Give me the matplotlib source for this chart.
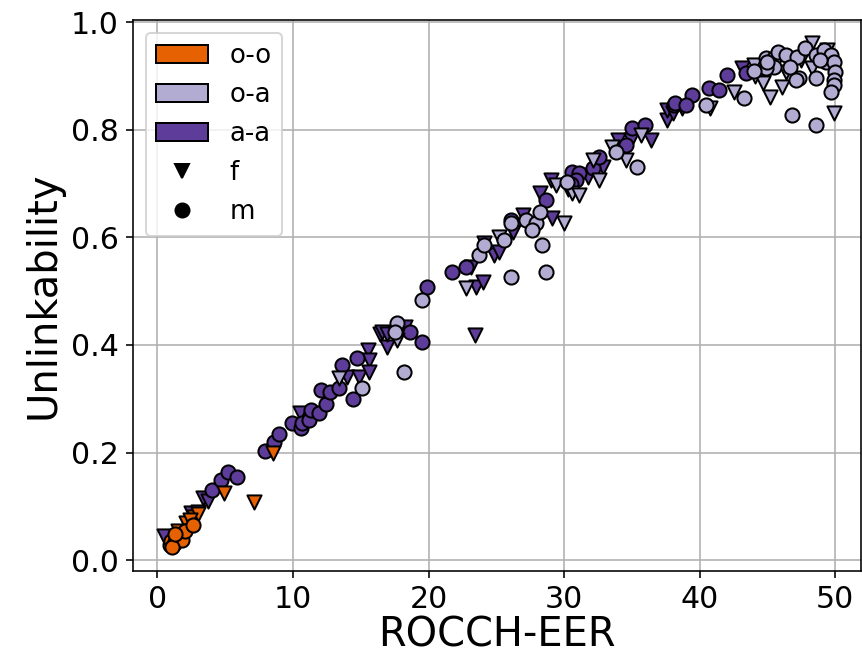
import matplotlib
matplotlib.use("Agg")
import matplotlib.pyplot as plt
from matplotlib.patches import Patch
from matplotlib.lines import Line2D

# ---- data ----
oo_f_x = [2.1, 2.7, 3.0, 4.9, 7.1, 8.5, 1.5, 2.4]
oo_f_y = [0.070, 0.080, 0.085, 0.125, 0.108, 0.200, 0.055, 0.075]
oo_m_x = [0.9, 1.0, 1.2, 1.4, 1.6, 1.8, 2.0, 1.1, 1.3, 2.6]
oo_m_y = [0.028, 0.035, 0.030, 0.040, 0.045, 0.038, 0.055, 0.025, 0.048, 0.065]

aa_f_x = [0.5, 2.5, 3.0, 3.4, 3.7, 10.5, 14.0, 14.9, 15.5, 15.6, 15.6, 16.4, 16.6, 16.9, 16.9, 18.3,
          23.4, 23.5, 24.0, 23.1, 24.1, 24.8, 25.2, 26.2, 27.0, 28.2, 29.1, 29.0, 31.0, 31.8, 32.9,
          34.0, 34.9, 36.4, 37.6, 37.6, 38.0, 38.7, 43.1, 30.3]
aa_f_y = [0.045, 0.087, 0.090, 0.115, 0.110, 0.273, 0.340, 0.340, 0.390, 0.372, 0.350, 0.420, 0.424,
          0.396, 0.420, 0.433, 0.418, 0.508, 0.517, 0.545, 0.590, 0.567, 0.572, 0.610, 0.641, 0.682,
          0.636, 0.706, 0.716, 0.712, 0.731, 0.781, 0.781, 0.781, 0.818, 0.836, 0.831, 0.840, 0.914, 0.690]
aa_m_x = [4.0, 4.7, 5.2, 5.9, 7.9, 8.6, 9.0, 9.9, 10.6, 10.7, 11.2, 11.3, 11.9, 12.4, 12.1, 12.7, 13.4,
          13.6, 14.7, 14.4, 18.6, 19.5, 19.9, 21.7, 22.8, 26.1, 28.7, 30.6, 31.1, 30.9, 30.5, 32.1, 32.6,
          34.6, 35.0, 36.0, 38.1, 38.2, 39.4, 39.0, 40.7, 41.4, 42.0, 43.4]
aa_m_y = [0.130, 0.149, 0.164, 0.155, 0.203, 0.220, 0.235, 0.255, 0.245, 0.255, 0.260, 0.279, 0.273,
          0.290, 0.316, 0.313, 0.320, 0.362, 0.375, 0.300, 0.424, 0.405, 0.507, 0.535, 0.545, 0.632,
          0.669, 0.721, 0.719, 0.706, 0.700, 0.729, 0.749, 0.771, 0.803, 0.809, 0.846, 0.849, 0.864,
          0.846, 0.877, 0.874, 0.901, 0.905]

oa_f_x = [13.4, 17.7, 22.8, 25.2, 30.0, 29.4, 30.6, 31.1, 32.6, 32.1, 33.5, 34.6, 35.7, 40.8, 42.5,
          44.0, 44.1, 44.9, 44.7, 45.2, 46.1, 49.9, 48.3, 46.4, 48.3, 49.4, 47.5]
oa_f_y = [0.338, 0.410, 0.505, 0.600, 0.626, 0.697, 0.682, 0.678, 0.706, 0.743, 0.768, 0.743, 0.790,
          0.840, 0.870, 0.920, 0.900, 0.900, 0.887, 0.861, 0.879, 0.831, 0.961, 0.907, 0.914, 0.948, 0.930]
oa_m_x = [15.1, 17.7, 17.5, 18.2, 19.5, 23.7, 24.1, 25.6, 26.1, 26.1, 27.2, 27.9, 27.6, 28.4, 28.7,
          28.2, 30.2, 33.8, 35.4, 40.5, 43.3, 46.8, 48.6, 44.9, 45.5, 45.8, 46.4, 47.2, 47.8, 48.6,
          49.2, 49.3, 49.7, 49.9, 50.0, 49.9, 49.9, 49.7, 46.7, 47.3, 48.6, 45.5, 44.9, 48.9, 47.1,
          44.0, 45.0]
oa_m_y = [0.320, 0.440, 0.424, 0.350, 0.483, 0.567, 0.585, 0.595, 0.526, 0.626, 0.632, 0.626, 0.613,
          0.585, 0.535, 0.647, 0.703, 0.758, 0.731, 0.846, 0.859, 0.827, 0.809, 0.933, 0.933, 0.944,
          0.939, 0.935, 0.952, 0.939, 0.948, 0.926, 0.939, 0.926, 0.907, 0.892, 0.883, 0.870, 0.916,
          0.896, 0.896, 0.916, 0.914, 0.929, 0.892, 0.910, 0.925]

group_labels = ["o-o", "o-a", "a-a"]
colors = {"o-o": "#e66101", "o-a": "#b2abd2", "a-a": "#5e3c99"}
xticks = [0, 10, 20, 30, 40, 50]
yticks = [0.0, 0.2, 0.4, 0.6, 0.8, 1.0]

# ---- plot ----
fig = plt.figure(figsize=(862 / 144, 657 / 144), dpi=144)
ax = fig.add_axes([0.1543, 0.1309, 0.8445, 0.8387])
ax.set_axisbelow(True)
ax.grid(True, color="#b0b0b0", linewidth=0.8)

kw = dict(s=50, edgecolors="black", linewidths=1.0)
series = [
    ("a-a", "v", aa_f_x, aa_f_y), ("a-a", "o", aa_m_x, aa_m_y),
    ("o-a", "v", oa_f_x, oa_f_y), ("o-a", "o", oa_m_x, oa_m_y),
    ("o-o", "v", oo_f_x, oo_f_y), ("o-o", "o", oo_m_x, oo_m_y),
]
for g, mk, xs, ys in series:
    ax.scatter(xs, ys, marker=mk, c=colors[g], **kw)

ax.set_xlim(-1.8, 51.9)
ax.set_ylim(-0.02, 1.004)
ax.set_xticks(xticks)
ax.set_yticks(yticks)
ax.set_yticklabels([f"{v:.1f}" for v in yticks])
ax.tick_params(labelsize=15)
ax.set_xlabel("ROCCH-EER", fontsize=20, labelpad=1)
ax.set_ylabel("Unlinkability", fontsize=20)

handles = [Patch(facecolor=colors[g], edgecolor="black", label=g) for g in group_labels]
handles += [Line2D([], [], marker="v", color="black", linestyle="none", markersize=7, label="f"),
            Line2D([], [], marker="o", color="black", linestyle="none", markersize=7, label="m")]
ax.legend(handles=handles, loc="upper left", fontsize=13)

fig.savefig("out.png", dpi=144)
